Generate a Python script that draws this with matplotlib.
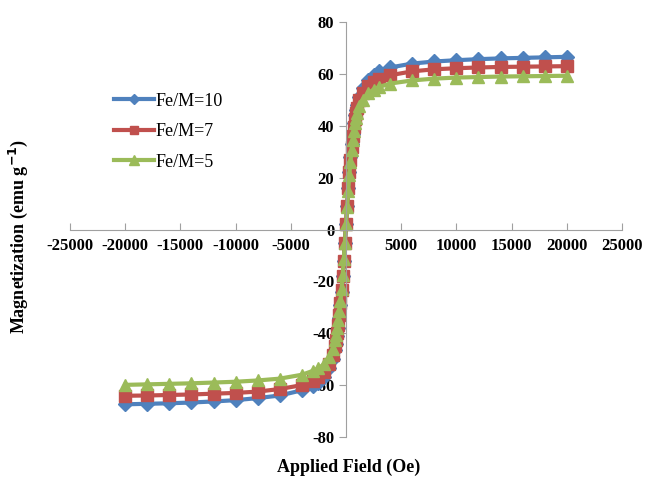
import matplotlib
matplotlib.use('Agg')
import matplotlib.pyplot as plt

# applied field (Oe)
field = [-20000, -18000, -16000, -14000, -12000, -10000, -8000, -6000, -4000,
         -3000, -2500, -2000, -1500, -1200, -1000, -900, -800, -700, -600, -500,
         -400, -300, -200, -100, 0, 100, 200, 300, 400, 500, 600, 700, 800, 900,
         1000, 1200, 1500, 2000, 2500, 3000, 4000, 6000, 8000, 10000, 12000,
         14000, 16000, 18000, 20000]

m_fe10 = [-67.4, -67.2, -67.0, -66.7, -66.3, -65.8, -65.0, -64.0, -62.0,
          -60.5, -59.0, -57.0, -53.5, -50.0, -46.5, -44.0, -41.0, -38.0, -34.0, -29.0,
          -24.0, -18.0, -12.0, -5.0, 2.0, 9.0, 16.0, 22.0, 28.0, 33.0, 37.0, 41.0, 44.0, 46.0,
          48.0, 51.0, 54.5, 57.5, 59.5, 61.0, 62.5, 64.0, 64.8, 65.3, 65.7,
          66.0, 66.2, 66.4, 66.6]

m_fe7 = [-64.1, -64.0, -63.8, -63.6, -63.3, -63.0, -62.5, -61.5, -60.0,
         -58.5, -57.0, -55.0, -52.0, -48.5, -45.0, -42.5, -40.0, -37.0, -33.0, -28.5,
         -23.5, -18.0, -12.0, -5.0, 2.0, 9.0, 16.0, 22.0, 27.0, 32.0, 36.0, 39.5, 42.5, 45.0,
         47.0, 50.0, 52.5, 55.5, 57.0, 58.0, 59.5, 61.0, 61.8, 62.2, 62.5,
         62.7, 62.8, 62.9, 63.0]

m_fe5 = [-59.9, -59.7, -59.5, -59.3, -59.0, -58.7, -58.2, -57.5, -56.0,
         -54.5, -53.5, -52.0, -49.0, -46.0, -42.5, -40.5, -38.0, -35.0, -31.5, -27.5,
         -23.0, -17.5, -11.5, -5.0, 2.0, 8.5, 15.0, 21.0, 26.0, 30.5, 34.5, 38.0, 41.0, 43.0,
         45.0, 47.5, 50.0, 52.5, 54.0, 55.0, 56.3, 57.5, 58.2, 58.6, 58.8,
         59.0, 59.1, 59.2, 59.3]

plt.rcParams['font.family'] = ['Liberation Serif', 'DejaVu Serif']
plt.rcParams['axes.unicode_minus'] = False

fig = plt.figure(figsize=(6.51, 4.78), dpi=100)
ax = fig.add_axes([0.1075, 0.0858, 0.848, 0.868])

ax.plot(field, m_fe10, color='#4F81BD', marker='D', markersize=7, lw=3, label='Fe/M=10')
ax.plot(field, m_fe7, color='#C0504D', marker='s', markersize=8, lw=3, label='Fe/M=7')
ax.plot(field, m_fe5, color='#9BBB59', marker='^', markersize=9, lw=3, label='Fe/M=5')

ax.set_xlim(-25000, 25000)
ax.set_ylim(-80, 80)
ax.set_xticks(range(-25000, 25001, 5000))
ax.set_yticks(range(-80, 81, 20))

ax.spines['left'].set_position(('data', 0))
ax.spines['bottom'].set_position(('data', 0))
ax.spines['right'].set_visible(False)
ax.spines['top'].set_visible(False)
ax.spines['left'].set_color('#A0A0A0')
ax.spines['bottom'].set_color('#A0A0A0')
ax.tick_params(axis='x', direction='in', length=5, color='#A0A0A0', labelsize=12, pad=6)
ax.tick_params(axis='y', direction='out', length=5, color='#A0A0A0', labelsize=12)
for t in ax.get_xticklabels() + ax.get_yticklabels():
    t.set_fontweight('bold')

fig.text(0.536, 0.005, 'Applied Field (Oe)', ha='center', va='bottom',
         fontsize=13, fontweight='bold')
fig.text(0.028, 0.505, 'Magnetization (emu g$^{\\mathbf{-1}}$)', rotation=90,
         ha='center', va='center', fontsize=13, fontweight='bold')

ax.legend(loc='upper left', bbox_to_anchor=(0.15, 0.84), bbox_transform=fig.transFigure,
          frameon=False, fontsize=13, handlelength=2.2, labelspacing=0.75,
          handletextpad=0.1, markerscale=0.8)

fig.savefig('out.png', dpi=100)
